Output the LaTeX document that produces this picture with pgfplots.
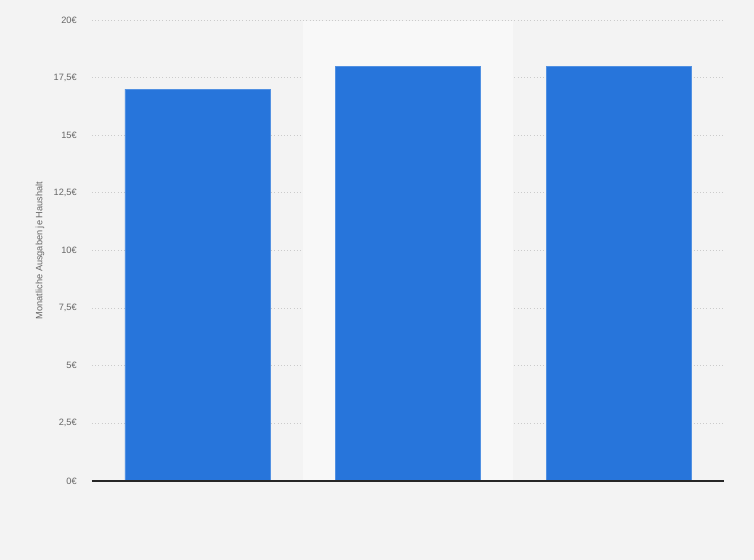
\documentclass[border=0pt]{standalone}
\usepackage{pgfplots}
\pgfplotsset{compat=1.18}
\usepackage{fontspec}
\setmainfont{Liberation Sans}
\definecolor{bg}{HTML}{F3F3F3}
\definecolor{band}{HTML}{F8F8F8}
\definecolor{barblue}{HTML}{2775DB}
\definecolor{ticktext}{HTML}{666666}
\definecolor{gridgray}{HTML}{CBCBCB}
\begin{document}
\begin{tikzpicture}[x=1pt,y=1pt]
\fill[bg] (0,0) rectangle (565.5,420);
\begin{axis}[
  at={(69pt,59.25pt)}, anchor=south west,
  scale only axis, width=474pt, height=345.75pt,
  xmin=-0.5, xmax=2.5, ymin=0, ymax=20,
  axis line style={draw=none},
  xtick=\empty,
  ytick={0,2.5,5,7.5,10,12.5,15,17.5,20},
  yticklabels={0€,{2,5€},5€,{7,5€},10€,{12,5€},15€,{17,5€},20€},
  major tick length=0pt,
  yticklabel style={font=\fontsize{6.9}{8}\selectfont, text=ticktext, inner sep=0pt, anchor=east, xshift=-11.25pt},
  ymajorgrids,
  grid style={dotted, gridgray, line width=0.6pt},
  ylabel={Monatliche Ausgaben je Haushalt},
  ylabel style={at={(axis description cs:-0.0823,0.5)}, anchor=center, font=\fontsize{6.9}{8}\selectfont, text=ticktext},
  ybar, bar width=0.688,
  clip=false,
]
\fill[band] (axis cs:0.5,0) rectangle (axis cs:1.5,19.95);
\addplot[fill=barblue, draw=barblue!80!white, line width=0.4pt] coordinates {(0,17) (1,18) (2,18)};
\draw[black!85, line width=1pt] (rel axis cs:0,0) -- (rel axis cs:1,0);
\end{axis}
\end{tikzpicture}
\end{document}
